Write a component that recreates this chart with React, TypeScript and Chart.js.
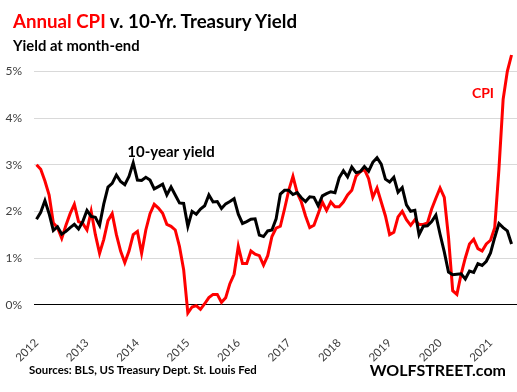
import React, { useEffect, useRef } from "react";
import { Chart, registerables } from "chart.js";

Chart.register(...registerables);

// ---- data (monthly, Jan 2012 .. Jun 2021) ----
const yearLabels = ["2012", "2013", "2014", "2015", "2016", "2017", "2018", "2019", "2020", "2021"];

const cpiValues = [
  3.0, 2.9, 2.65, 2.35, 1.75, 1.65, 1.42, 1.7, 1.95, 2.15, 1.78, 1.74,
  1.6, 2.0, 1.5, 1.1, 1.4, 1.8, 1.95, 1.5, 1.15, 0.9, 1.15, 1.5,
  1.57, 1.1, 1.6, 1.95, 2.15, 2.07, 1.96, 1.72, 1.68, 1.6, 1.25, 0.75,
  -0.18, -0.05, -0.02, -0.1, 0.02, 0.15, 0.22, 0.22, 0.05, 0.15, 0.45, 0.65,
  1.25, 0.88, 0.88, 1.15, 1.08, 1.05, 0.85, 1.05, 1.46, 1.64, 1.68, 2.05,
  2.45, 2.75, 2.4, 2.2, 1.9, 1.65, 1.7, 1.95, 2.2, 2.02, 2.2, 2.1,
  2.1, 2.2, 2.35, 2.45, 2.75, 2.85, 2.9, 2.7, 2.3, 2.5, 2.2, 1.9,
  1.5, 1.55, 1.88, 2.0, 1.82, 1.7, 1.82, 1.72, 1.72, 1.75, 2.05, 2.28,
  2.5, 2.3, 1.45, 0.3, 0.22, 0.65, 1.0, 1.3, 1.4, 1.2, 1.15, 1.3,
  1.38, 1.65, 2.9, 4.4, 5.0, 5.35,
];

const yieldValues = [
  1.83, 1.98, 2.23, 1.95, 1.59, 1.67, 1.51, 1.57, 1.65, 1.72, 1.62, 1.78,
  2.02, 1.89, 1.87, 1.7, 2.16, 2.52, 2.6, 2.78, 2.64, 2.57, 2.75, 3.04,
  2.67, 2.66, 2.73, 2.67, 2.48, 2.53, 2.58, 2.35, 2.52, 2.35, 2.18, 2.17,
  1.68, 2.0, 1.94, 2.05, 2.12, 2.35, 2.2, 2.21, 2.06, 2.16, 2.21, 2.27,
  1.94, 1.74, 1.78, 1.83, 1.84, 1.49, 1.46, 1.58, 1.6, 1.84, 2.37, 2.45,
  2.45, 2.36, 2.4, 2.29, 2.21, 2.31, 2.3, 2.12, 2.33, 2.38, 2.42, 2.4,
  2.72, 2.87, 2.74, 2.95, 2.83, 2.85, 2.96, 2.86, 3.05, 3.15, 3.01, 2.69,
  2.63, 2.73, 2.41, 2.51, 2.14, 2.0, 2.02, 1.5, 1.68, 1.69, 1.78, 1.92,
  1.51, 1.13, 0.7, 0.64, 0.65, 0.66, 0.55, 0.72, 0.69, 0.88, 0.84, 0.93,
  1.11, 1.44, 1.74, 1.65, 1.58, 1.3,
];

const yTickValues = [0, 1, 2, 3, 4, 5];

const seriesLabels = { cpi: "CPI", yield: "10-year yield" };

const FONT = "Lato, 'DejaVu Sans', sans-serif";
const RED = "#ff0000";

// in-chart labels, anchored in data coordinates (month index, percent)
const annotations = [
  { text: seriesLabels.yield, month: 32, value: 3.27, color: "#000000", size: 15 },
  { text: seriesLabels.cpi, month: 106.2, value: 4.52, color: RED, size: 14 },
];

const annotationPlugin = {
  id: "seriesLabels",
  afterDatasetsDraw(chart: any) {
    const { ctx, scales } = chart;
    ctx.save();
    ctx.textAlign = "center";
    ctx.textBaseline = "middle";
    for (const a of annotations) {
      ctx.font = `bold ${a.size}px ${FONT}`;
      ctx.fillStyle = a.color;
      ctx.fillText(a.text, scales.x.getPixelForValue(a.month), scales.y.getPixelForValue(a.value));
    }
    ctx.restore();
  },
};

export default function App() {
  const canvasRef = useRef<HTMLCanvasElement>(null);

  useEffect(() => {
    const canvas = canvasRef.current;
    if (!canvas) return;
    const chart = new Chart(canvas, {
      type: "line",
      data: {
        datasets: [
          {
            label: seriesLabels.yield,
            data: yieldValues.map((v, i) => ({ x: i, y: v })),
            borderColor: "#000000",
            borderWidth: 3,
            pointRadius: 0,
            tension: 0,
            fill: false,
          },
          {
            label: seriesLabels.cpi,
            data: cpiValues.map((v, i) => ({ x: i, y: v })),
            borderColor: RED,
            borderWidth: 3,
            pointRadius: 0,
            tension: 0,
            fill: false,
          },
        ],
      },
      options: {
        animation: false,
        responsive: false,
        devicePixelRatio: 1,
        layout: { padding: { top: 48, left: 0, right: 0, bottom: 0 } },
        plugins: {
          legend: { display: false },
          tooltip: { enabled: false },
          title: { display: false },
        },
        scales: {
          x: {
            type: "linear",
            min: -0.6,
            max: 114.3,
            grid: { display: false },
            border: { display: false },
            afterBuildTicks: (s: any) => {
              s.ticks = yearLabels.map((_, k) => ({ value: k * 12 }));
            },
            afterFit: (s: any) => {
              s.height = 71;
            },
            ticks: {
              autoSkip: false,
              minRotation: 45,
              maxRotation: 45,
              padding: 7,
              color: "#404040",
              font: { family: FONT, size: 11.5 },
              callback: (v: any) => yearLabels[Math.round(Number(v) / 12)] ?? "",
            },
          },
          y: {
            type: "linear",
            min: -0.35,
            max: 5.5,
            border: { display: false },
            afterBuildTicks: (s: any) => {
              s.ticks = yTickValues.map((v) => ({ value: v }));
            },
            afterFit: (s: any) => {
              s.width = 34;
            },
            grid: {
              drawTicks: false,
              lineWidth: 1,
              color: (c: any) => (c.tick && c.tick.value === 0 ? "#000000" : "#d9d9d9"),
            },
            ticks: {
              padding: 12,
              color: "#404040",
              font: { family: FONT, size: 12 },
              callback: (v: any) => `${v}%`,
            },
          },
        },
      },
      plugins: [annotationPlugin],
    });
    return () => chart.destroy();
  }, []);

  return (
    <div
      style={{
        position: "fixed",
        left: 0,
        top: 0,
        width: 517,
        height: 392,
        background: "#ffffff",
        fontFamily: FONT,
        overflow: "hidden",
      }}
    >
      <canvas ref={canvasRef} width={517} height={392} style={{ position: "absolute", left: 0, top: 0 }} />
      <div
        style={{
          position: "absolute",
          left: 13,
          top: 12,
          fontSize: 18.7,
          lineHeight: "19px",
          fontWeight: 700,
          color: "#000",
          whiteSpace: "nowrap",
        }}
      >
        <span style={{ color: RED }}>Annual CPI</span> v. 10-Yr. Treasury Yield
      </div>
      <div
        style={{
          position: "absolute",
          left: 13,
          top: 38,
          fontSize: 14.8,
          lineHeight: "15px",
          fontWeight: 700,
          color: "#000",
          whiteSpace: "nowrap",
        }}
      >
        Yield at month-end
      </div>
      <div
        style={{
          position: "absolute",
          left: 29,
          top: 364,
          fontSize: 11.4,
          lineHeight: "12px",
          fontWeight: 700,
          color: "#000",
          whiteSpace: "nowrap",
        }}
      >
        Sources: BLS, US Treasury Dept. St. Louis Fed
      </div>
      <div
        style={{
          position: "absolute",
          right: 11,
          top: 362,
          fontSize: 16,
          lineHeight: "16px",
          fontWeight: 700,
          color: "#000",
          whiteSpace: "nowrap",
        }}
      >
        WOLFSTREET.com
      </div>
    </div>
  );
}
